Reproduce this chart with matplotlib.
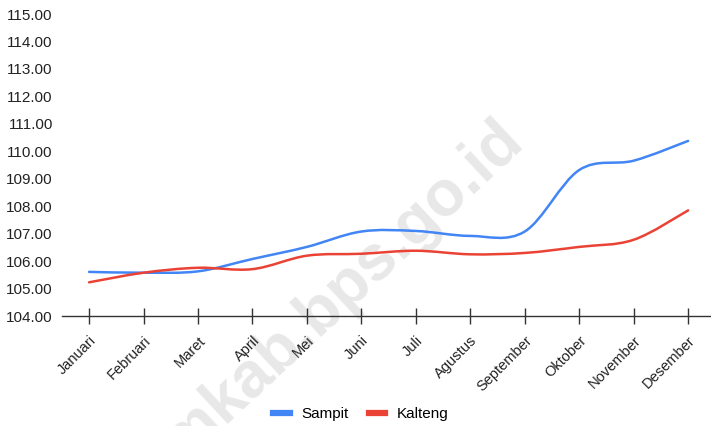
import matplotlib
matplotlib.use("Agg")
import matplotlib.pyplot as plt
from matplotlib.path import Path
from matplotlib.patches import PathPatch
from matplotlib.lines import Line2D
import numpy as np

bulan = ["Januari", "Februari", "Maret", "April", "Mei", "Juni", "Juli",
         "Agustus", "September", "Oktober", "November", "Desember"]
sampit = [105.61, 105.58, 105.63, 106.08, 106.52, 107.08, 107.10,
          106.92, 107.08, 109.32, 109.66, 110.38]
kalteng = [105.23, 105.58, 105.76, 105.71, 106.20, 106.27, 106.38,
           106.25, 106.30, 106.52, 106.78, 107.85]

plt.rcParams['font.family'] = ['Liberation Sans', 'DejaVu Sans']


def kurva(ax, xs, ys, warna):
    # kurva halus ala google charts (bezier kubik lewat titik data)
    pts = np.column_stack([xs, ys]).astype(float)
    n = len(pts)
    verts = [tuple(pts[0])]
    codes = [Path.MOVETO]
    k = 1 / 6
    for i in range(n - 1):
        p_prev = pts[max(i - 1, 0)]
        p_next2 = pts[min(i + 2, n - 1)]
        c1 = pts[i] + (pts[i + 1] - p_prev) * k
        c2 = pts[i + 1] - (p_next2 - pts[i]) * k
        verts += [tuple(c1), tuple(c2), tuple(pts[i + 1])]
        codes += [Path.CURVE4] * 3
    ax.add_patch(PathPatch(Path(verts, codes), fill=False, edgecolor=warna,
                           lw=1.8, zorder=3, capstyle='round'))


fig = plt.figure(figsize=(7.11, 4.26), dpi=100)
ax = fig.add_axes([0.087, 0.258, 0.913, 0.709])

x = np.arange(len(bulan))
kurva(ax, x, sampit, "#4285F4")
kurva(ax, x, kalteng, "#EA4335")

ax.set_xlim(-0.5, 11.42)
ax.set_ylim(104, 115)
ax.set_yticks(np.arange(104, 116, 1))
ax.set_yticklabels([f"{v:.2f}" for v in np.arange(104, 116, 1)], fontsize=11, color="#222222")
ax.set_xticks(x)
ax.set_xticklabels(bulan, rotation=45, ha='right', rotation_mode='anchor',
                   fontsize=10.5, color="#222222")

for s in ['top', 'right', 'left']:
    ax.spines[s].set_visible(False)
ax.spines['bottom'].set_color("#333333")
ax.spines['bottom'].set_linewidth(1)
ax.tick_params(axis='y', length=0, pad=6.5)
ax.tick_params(axis='x', direction='inout', length=11, width=1, color="#333333", pad=7)

# watermark (di bawah label sumbu)
ax.text(0.723, 0.695, "kotimkab.bps.go.id", transform=fig.transFigure, rotation=43,
        rotation_mode='anchor', ha='right', va='center', fontsize=46,
        fontweight='bold', color="#e8e8e8", zorder=0, clip_on=False)

handles = [Line2D([], [], color="#4285F4", lw=4.5),
           Line2D([], [], color="#EA4335", lw=4.5)]
fig.legend(handles, ["Sampit", "Kalteng"], loc='center', bbox_to_anchor=(0.508, 0.028),
           ncol=2, frameon=False, fontsize=11, handlelength=1.05, handletextpad=0.8,
           columnspacing=1.3)

fig.savefig("out.png", dpi=100)
